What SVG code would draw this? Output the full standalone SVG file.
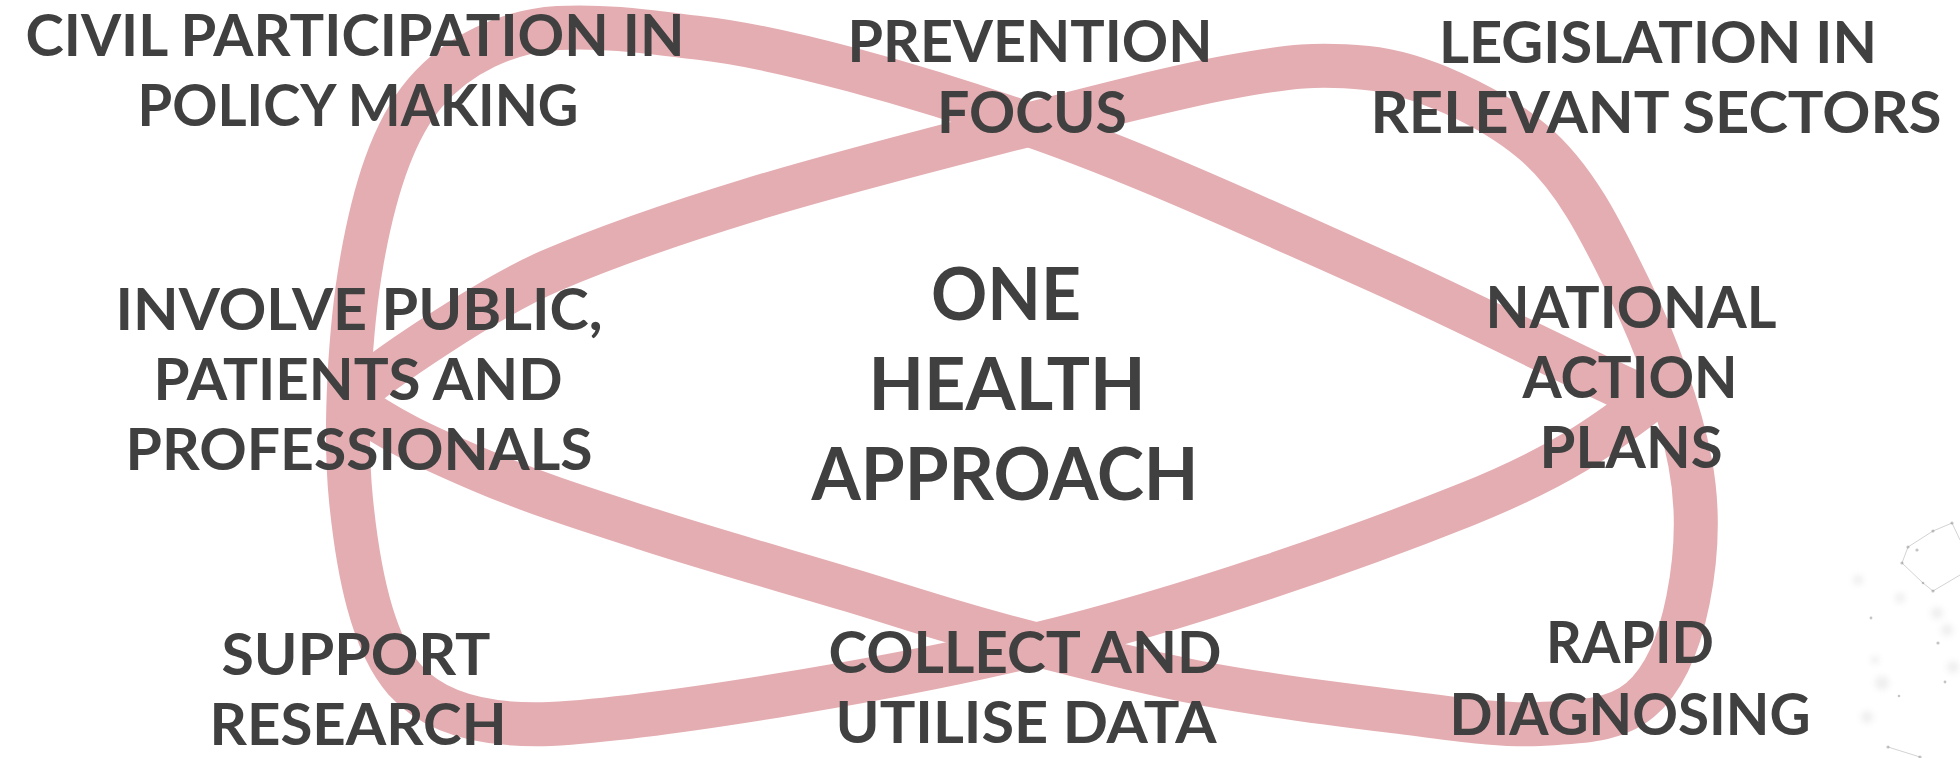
<svg xmlns="http://www.w3.org/2000/svg" width="1960" height="758" viewBox="0 0 1960 758">
<defs>
<filter id="soft" x="-1" y="-1" width="3" height="3"><feGaussianBlur stdDeviation="3"/></filter>
</defs>
<style>
.rib{fill:none;stroke:#e4adb2;stroke-width:44;stroke-linejoin:round;stroke-linecap:round}
.t{font-family:Lato,"Liberation Sans",sans-serif;font-weight:700;fill:#404040;text-anchor:middle;font-size:57px}
.c{font-size:72px}
.dl{stroke:#a8a8a8;stroke-width:1;fill:none;opacity:0.5}
.dd{fill:#8a8a8a;opacity:0.5}
.blob{fill:#cfcfcf;opacity:0.35;filter:url(#soft)}
</style>
<rect width="1960" height="758" fill="#ffffff"/>
<g id="decoration">
<circle class="blob" cx="1882" cy="683" r="7"/>
<circle class="blob" cx="1867" cy="717" r="6"/>
<circle class="blob" cx="1953" cy="667" r="6"/>
<circle class="blob" cx="1947" cy="630" r="6"/>
<circle class="blob" cx="1937" cy="613" r="6"/>
<circle class="blob" cx="1900" cy="598" r="5"/>
<circle class="blob" cx="1858" cy="580" r="5"/>
<circle class="blob" cx="1875" cy="660" r="4"/>
<polyline class="dl" points="1902,563 1908,547 1933,531 1952,523 1960,540"/>
<polyline class="dl" points="1902,563 1923,583 1933,591 1960,575"/>
<polyline class="dl" points="1888,747 1920,757"/>
<circle class="dd" cx="1952" cy="523" r="1.6"/>
<circle class="dd" cx="1933" cy="531" r="1.6"/>
<circle class="dd" cx="1908" cy="547" r="1.6"/>
<circle class="dd" cx="1917" cy="550" r="1.6"/>
<circle class="dd" cx="1902" cy="563" r="1.6"/>
<circle class="dd" cx="1923" cy="583" r="1.3"/>
<circle class="dd" cx="1933" cy="591" r="1.6"/>
<circle class="dd" cx="1938" cy="643" r="1.6"/>
<circle class="dd" cx="1945" cy="682" r="1.4"/>
<circle class="dd" cx="1899" cy="696" r="1.3"/>
<circle class="dd" cx="1871" cy="618" r="1.4"/>
<circle class="dd" cx="1888" cy="747" r="1.6"/>
<circle class="dd" cx="1920" cy="757" r="1.6"/>
</g>
<g id="connectors">
<path id="loop-a" class="rib" d="M1650,400 C1610,430 1567.5,464 1465,505 C1362.5,546 1187.5,608.5 1035,645 C882.5,681.5 655,718 550,724 C495,726 438,717 405,680 C372,643 358,570 351,500 C344,430 350,328 362,260 C374,192 392,132 425,93 C458,54 508,31 558,28 C608,25 660,33.5 700,38 C780,47 917.5,85.5 1030,125 C1142.5,164 1271.7,224 1375,270 C1478,316 1585,372 1650,400 Z"/>
<path id="loop-b" class="rib" d="M349,400 C378,371 492,296 550,271 C608,246 675,223 750,200 C825,177 920,152.5 1000,132 C1080,111.5 1169,88 1230,77 C1291,66 1316.5,63 1367,68 C1417.5,73 1489,105 1533,142 C1577,179 1604,237 1630,290 C1656,343 1680,410 1690,462 C1700,514 1696,560 1688,600 C1680,640 1665,679 1640,700 C1615,721 1580,722 1540,724 C1500,726 1457,719 1400,712 C1343,705 1267,696 1200,683 C1133,670 1058,650.5 1000,635 C942,619.5 908,607.5 850,590 C792,572.5 712,550 650,530 C588,510 532,492.5 480,470 C428,447.5 384,428 349,400 Z"/>
</g>
<g id="node-civil" class="t">
<text x="355" y="56" textLength="659" lengthAdjust="spacingAndGlyphs">CIVIL PARTICIPATION IN</text>
<text x="358" y="126" textLength="441" lengthAdjust="spacingAndGlyphs">POLICY MAKING</text>
</g>
<g id="node-prevention" class="t">
<text x="1030" y="62" textLength="365" lengthAdjust="spacingAndGlyphs">PREVENTION</text>
<text x="1032" y="133" textLength="190" lengthAdjust="spacingAndGlyphs">FOCUS</text>
</g>
<g id="node-legislation" class="t">
<text x="1658" y="63" textLength="438" lengthAdjust="spacingAndGlyphs">LEGISLATION IN</text>
<text x="1656" y="133" textLength="571" lengthAdjust="spacingAndGlyphs">RELEVANT SECTORS</text>
</g>
<g id="node-involve" class="t">
<text x="359" y="330" textLength="487" lengthAdjust="spacingAndGlyphs">INVOLVE PUBLIC,</text>
<text x="358" y="400" textLength="409" lengthAdjust="spacingAndGlyphs">PATIENTS AND</text>
<text x="359" y="470" textLength="467" lengthAdjust="spacingAndGlyphs">PROFESSIONALS</text>
</g>
<g id="node-one-health" class="t c">
<text x="1006" y="320" textLength="150" lengthAdjust="spacingAndGlyphs">ONE</text>
<text x="1007" y="410" textLength="277" lengthAdjust="spacingAndGlyphs">HEALTH</text>
<text x="1005" y="500" textLength="387" lengthAdjust="spacingAndGlyphs">APPROACH</text>
</g>
<g id="node-national" class="t">
<text x="1631" y="328" textLength="291" lengthAdjust="spacingAndGlyphs">NATIONAL</text>
<text x="1630" y="398" textLength="215" lengthAdjust="spacingAndGlyphs">ACTION</text>
<text x="1631" y="468" textLength="183" lengthAdjust="spacingAndGlyphs">PLANS</text>
</g>
<g id="node-support" class="t">
<text x="356" y="675" textLength="269" lengthAdjust="spacingAndGlyphs">SUPPORT</text>
<text x="358" y="745" textLength="297" lengthAdjust="spacingAndGlyphs">RESEARCH</text>
</g>
<g id="node-collect" class="t">
<text x="1025" y="673" textLength="393" lengthAdjust="spacingAndGlyphs">COLLECT AND</text>
<text x="1026" y="743" textLength="381" lengthAdjust="spacingAndGlyphs">UTILISE DATA</text>
</g>
<g id="node-rapid" class="t">
<text x="1630" y="663" textLength="168" lengthAdjust="spacingAndGlyphs">RAPID</text>
<text x="1630" y="735" textLength="361" lengthAdjust="spacingAndGlyphs">DIAGNOSING</text>
</g>
</svg>
